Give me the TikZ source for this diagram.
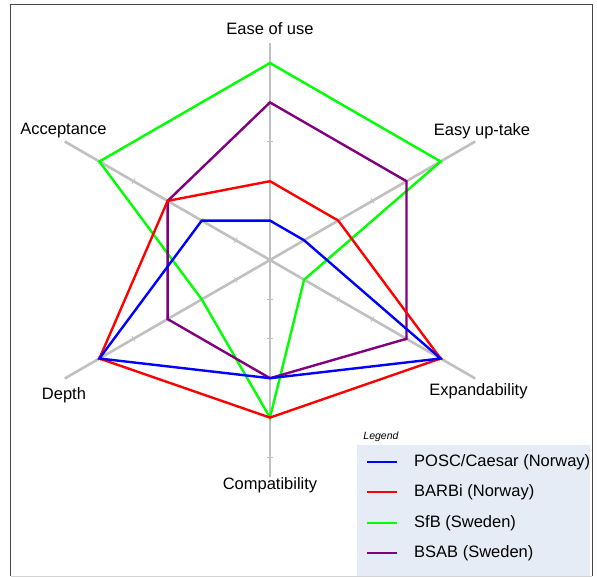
\documentclass[tikz,border=0pt]{standalone}
\usepackage{fontspec}
\setmainfont{Liberation Sans}
\usetikzlibrary{calc}
\begin{document}
\begin{tikzpicture}[x=1pt,y=1pt,
  axisline/.style={draw=axisgray,line width=2.6pt},
  tickline/.style={draw=axisgray,line width=0.8pt},
  series/.style={line width=2.4pt,line join=miter},
  axlabel/.style={font=\fontsize{16.5}{19}\selectfont,inner sep=0pt},
  legtext/.style={font=\fontsize{16.5}{19}\selectfont,inner sep=0pt,anchor=west},
  legline/.style={line width=2.2pt}]
\definecolor{axisgray}{RGB}{192,192,192}
\definecolor{cblue}{RGB}{0,0,255}
\definecolor{cred}{RGB}{255,0,0}
\definecolor{cgreen}{RGB}{0,255,0}
\definecolor{cpurple}{RGB}{128,0,128}
\definecolor{legbg}{RGB}{230,236,246}
\definecolor{framegray}{RGB}{70,70,70}
\useasboundingbox (-270,260) rectangle (327,-317);
\fill[white] (-270,260) rectangle (327,-317);
% legend background
\fill[legbg] (87,-185) rectangle (320,-316);
% frame
\draw[framegray,line width=1pt] (-259,-316) -- (-259,255) -- (322,255) -- (322,-316);
\draw[axisgray!70,line width=1pt] (-259,-316) -- (322,-316);
% axes
\coordinate (O) at (0,0);
\coordinate (aE) at (90:217);
\coordinate (aC) at (-90:217);
\coordinate (aU) at (30:237);
\coordinate (aX) at (-30:237);
\coordinate (aD) at (210:237);
\coordinate (aA) at (150:237);
\draw[axisline] (aE) -- (aC);
\draw[axisline] (aU) -- (aD);
\draw[axisline] (aX) -- (aA);
% ticks
\foreach \ang in {90,30,-30,-90,210,150}{
  \foreach \k in {1,...,5}{
    \draw[tickline] ($(\ang:\k*39.4)+(\ang+90:3)$) -- ($(\ang:\k*39.4)+(\ang-90:3)$);
  }
}
% labels
\node[axlabel] (lE) at (0,231) {Ease of use};
\node[axlabel] (lU) at (212,129) {Easy up-take};
\node[axlabel] (lA) at (-206.5,129) {Acceptance};
\node[axlabel] (lD) at (-206,-135) {Depth};
\node[axlabel] (lX) at (208.5,-131) {Expandability};
\node[axlabel] (lC) at (0,-225) {Compatibility};
% data: order E(90) U(30) X(-30) C(-90) D(210) A(150)
\def\u{39.4}
\foreach \name/\col/\e/\up/\x/\c/\d/\a in {
  g/cgreen/5/5/1/4/2/5,
  p/cpurple/4/4/4/3/3/3,
  r/cred/2/2/5/4/5/3,
  b/cblue/1/1/5/3/5/2}{
  \coordinate (\name E) at (90:\e*\u);
  \coordinate (\name U) at (30:\up*\u);
  \coordinate (\name X) at (-30:\x*\u);
  \coordinate (\name C) at (-90:\c*\u);
  \coordinate (\name D) at (210:\d*\u);
  \coordinate (\name A) at (150:\a*\u);
  \draw[series,\col] (\name E) -- (\name U) -- (\name X) -- (\name C) -- (\name D) -- (\name A) -- cycle;
}
% legend
\node[font=\fontsize{10.5}{12}\selectfont\itshape,inner sep=0pt] (legtitle) at (111,-177) {Legend};
\foreach \col/\txt/\yy [count=\i] in {
  cblue/{POSC/Caesar (Norway)}/-202,
  cred/{BARBi (Norway)}/-232,
  cgreen/{SfB (Sweden)}/-263,
  cpurple/{BSAB (Sweden)}/-293}{
  \coordinate (ls\i) at (97,\yy);
  \coordinate (le\i) at (127,\yy);
  \draw[legline,\col] (ls\i) -- (le\i);
  \node[legtext] (lt\i) at (144,\yy) {\txt};
}
\end{tikzpicture}
\end{document}
